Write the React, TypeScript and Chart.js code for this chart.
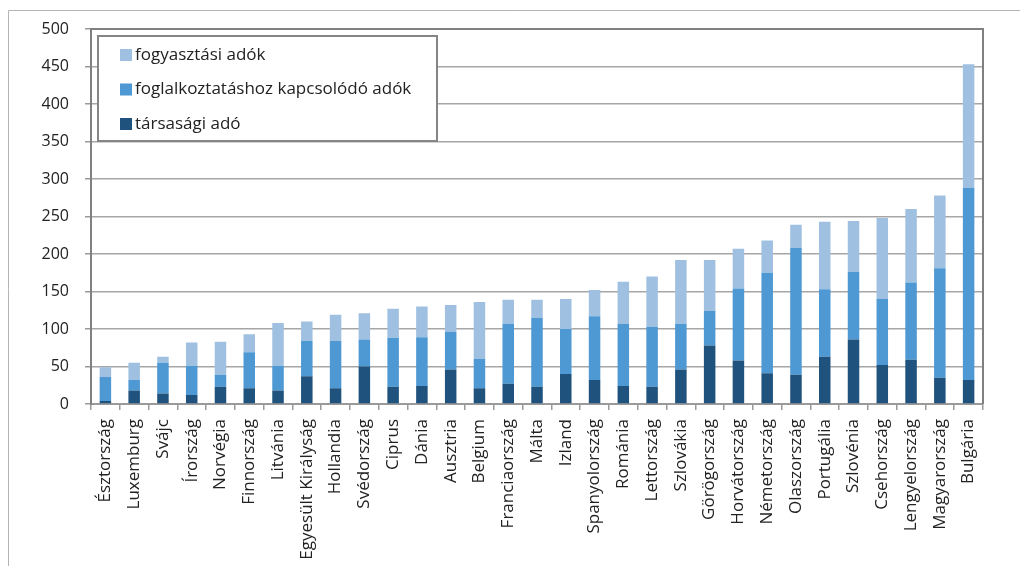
import React, { useEffect, useRef } from "react";
import { Chart, registerables } from "chart.js";

Chart.register(...registerables);

const categories = [
  "Észtország", "Luxemburg", "Svájc", "Írország", "Norvégia", "Finnország",
  "Litvánia", "Egyesült Királyság", "Hollandia", "Svédország", "Ciprus", "Dánia",
  "Ausztria", "Belgium", "Franciaország", "Málta", "Izland", "Spanyolország",
  "Románia", "Lettország", "Szlovákia", "Görögország", "Horvátország",
  "Németország", "Olaszország", "Portugália", "Szlovénia", "Csehország",
  "Lengyelország", "Magyarország", "Bulgária",
];

const corporateTax = [4, 18, 14, 12, 23, 21, 18, 37, 21, 50, 23, 24, 46, 21, 27, 23, 40, 32, 24, 23, 46, 78, 58, 41, 39, 63, 86, 52, 59, 35, 32];
const laborTax = [32, 14, 41, 39, 16, 48, 33, 47, 63, 36, 65, 65, 50, 39, 80, 92, 60, 85, 83, 80, 61, 46, 96, 134, 169, 90, 90, 88, 103, 146, 256];
const consumptionTax = [13, 23, 8, 31, 44, 24, 57, 26, 35, 35, 39, 41, 36, 76, 32, 24, 40, 35, 56, 67, 85, 68, 53, 43, 31, 90, 68, 108, 98, 97, 165];

const seriesLabels = ["társasági adó", "foglalkoztatáshoz kapcsolódó adók", "fogyasztási adók"];
const seriesColors = ["#1f527c", "#4e98d3", "#9fc0e1"];
const yMin = 0;
const yMax = 500;
const yStep = 50;

const FONT = "'Open Sans', Lato, sans-serif";

const decorPlugin = {
  id: "decor",
  beforeDraw(chart: any) {
    const ctx = chart.ctx;
    ctx.save();
    ctx.fillStyle = "#ffffff";
    ctx.fillRect(0, 0, chart.width, chart.height);
    ctx.strokeStyle = "#b4b4b4";
    ctx.lineWidth = 1;
    ctx.beginPath();
    ctx.moveTo(8.5, chart.height);
    ctx.lineTo(8.5, 10.5);
    ctx.lineTo(chart.width, 10.5);
    ctx.stroke();
    ctx.restore();
  },
  afterDraw(chart: any) {
    const ctx = chart.ctx;
    const a = chart.chartArea;
    ctx.save();
    ctx.strokeStyle = "#808080";
    ctx.lineWidth = 2;
    ctx.beginPath();
    ctx.moveTo(a.left, a.top);
    ctx.lineTo(a.right, a.top);
    ctx.lineTo(a.right, a.bottom);
    ctx.stroke();

    const bx = 98, by = 36, bw = 339, bh = 105;
    ctx.fillStyle = "#ffffff";
    ctx.fillRect(bx, by, bw, bh);
    ctx.strokeStyle = "#858585";
    ctx.lineWidth = 2;
    ctx.strokeRect(bx, by, bw, bh);

    const ds = chart.data.datasets;
    const rowsY = [55, 89.5, 124];
    ctx.font = "17px " + FONT;
    ctx.textBaseline = "middle";
    ctx.textAlign = "left";
    for (let i = 0; i < ds.length; i++) {
      const d = ds[ds.length - 1 - i];
      const y = rowsY[i];
      ctx.fillStyle = d.backgroundColor;
      ctx.fillRect(120, y - 6, 12, 12);
      ctx.fillStyle = "#222222";
      ctx.fillText(d.label, 135, y);
    }
    ctx.restore();
  },
};

export default function App() {
  const ref = useRef<HTMLCanvasElement | null>(null);

  useEffect(() => {
    if (!ref.current) return;
    const datasets = [corporateTax, laborTax, consumptionTax].map((values, i) => ({
      label: seriesLabels[i],
      data: values,
      backgroundColor: seriesColors[i],
      borderWidth: 0,
      barPercentage: 0.8,
      categoryPercentage: 0.5,
    }));

    const chart = new Chart(ref.current, {
      type: "bar",
      data: { labels: categories, datasets },
      plugins: [decorPlugin],
      options: {
        responsive: false,
        animation: false,
        layout: { padding: { left: 0, top: 29, right: 37, bottom: 0 } },
        plugins: {
          legend: { display: false },
          tooltip: { enabled: false },
        },
        scales: {
          x: {
            stacked: true,
            afterFit: (s: any) => {
              s.height = 162;
            },
            grid: {
              display: true,
              drawOnChartArea: false,
              drawTicks: true,
              tickLength: 6,
              offset: true,
              color: "#9a9a9a",
              lineWidth: 1.5,
            },
            border: { color: "#9a9a9a", width: 2 },
            ticks: {
              autoSkip: false,
              minRotation: 90,
              maxRotation: 90,
              padding: 9,
              color: "#222222",
              font: { family: FONT, size: 17 },
            },
          },
          y: {
            stacked: true,
            min: yMin,
            max: yMax,
            afterFit: (s: any) => {
              s.width = 91;
            },
            grid: {
              color: "#a6a6a6",
              lineWidth: 1.5,
              tickLength: 6,
              tickColor: "#9a9a9a",
            },
            border: { color: "#808080", width: 2 },
            ticks: {
              stepSize: yStep,
              padding: 16,
              color: "#222222",
              font: { family: FONT, size: 16 },
            },
          },
        },
      },
    });
    return () => chart.destroy();
  }, []);

  return (
    <div style={{ position: "absolute", left: 0, top: 0, width: 1020, height: 566 }}>
      <canvas ref={ref} width={1020} height={566} style={{ display: "block" }} />
    </div>
  );
}
